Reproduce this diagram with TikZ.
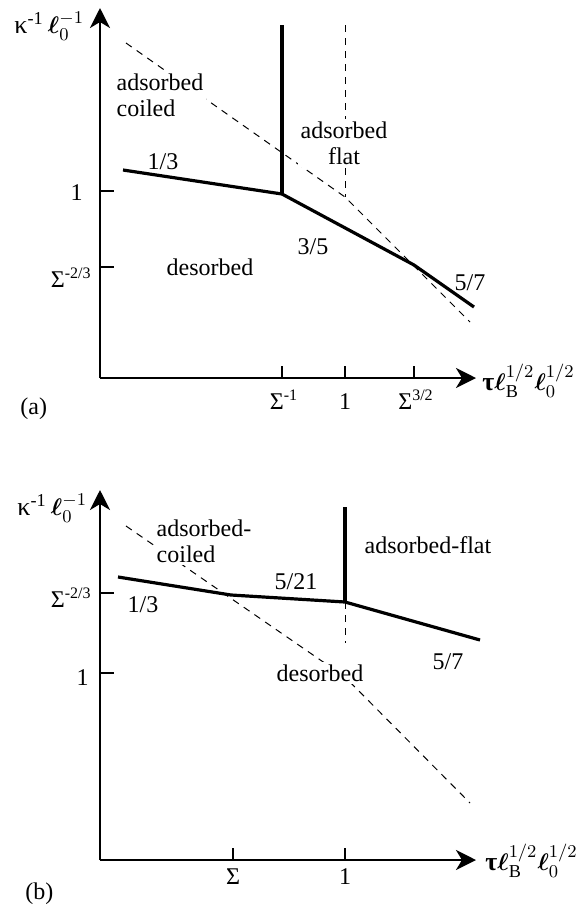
\documentclass[tikz,border=0pt]{standalone}
\usepackage{fontspec}
\setmainfont{Liberation Serif}
\usepackage{amsmath,bm}
\usetikzlibrary{arrows.meta}
\begin{document}
\begin{tikzpicture}[x=0.5pt,y=-0.5pt]
  \tikzstyle{axis}=[line width=1.3pt, -{Stealth[length=10pt,width=10pt,inset=3pt]}]
  \tikzstyle{phaseline}=[line width=1.6pt, line join=round]
  \tikzstyle{crossover}=[line width=0.5pt, dash pattern=on 3.5pt off 3pt]
  \tikzstyle{tick}=[line width=1.3pt]
  \tikzstyle{lbl}=[font=\fontsize{12}{13}\selectfont, inner sep=1pt]
  \tikzstyle{region}=[lbl, fill=white, inner sep=1.5pt]
  \useasboundingbox (0,0) rectangle (575,906);
  % (a)
  \coordinate (aO) at (100,378);
  \coordinate (aY) at (100,8);
  \coordinate (aX) at (476,378);
  \coordinate (aP1) at (123,170);
  \coordinate (aP2) at (282,194);
  \coordinate (aP3) at (414,265);
  \coordinate (aP4) at (474,307);
  \coordinate (aV) at (282,25);
  \coordinate (aD1) at (126,43);
  \coordinate (aD2) at (345,197);
  \coordinate (aD3) at (470,322);
  \coordinate (aDV) at (345,25);
  \draw[crossover] (aD1) -- (aD2) -- (aD3);
  \draw[crossover] (aDV) -- (aD2);
  \draw[phaseline] (aP1) -- (aP2) -- (aP3) -- (aP4);
  \draw[phaseline] (aV) -- (aP2);
  \draw[axis] (aO) -- (aY);
  \draw[axis] (aO) -- (aX);
  \draw[tick] (100,191) -- (114,191);
  \draw[tick] (100,267) -- (114,267);
  \draw[tick] (282,378) -- (282,366);
  \draw[tick] (345,378) -- (345,366);
  \draw[tick] (414,378) -- (414,366);
  \node[lbl, anchor=base west] (aylab) at (12,33) {\fontsize{13}{14}\selectfont κ\textsuperscript{-1}\,$\boldsymbol{\ell}_0^{-1}$};
  \node[lbl, anchor=base west] (axlab) at (480,390) {\fontsize{13}{14}\selectfont\textbf{τ}$\boldsymbol{\ell}_{\mathrm{B}}^{1/2}\boldsymbol{\ell}_0^{1/2}$};
  \node[lbl, anchor=base east] (ay1) at (85,200) {1};
  \node[lbl, anchor=base east] (ay2) at (94,287) {Σ\textsuperscript{-2/3}};
  \node[lbl, anchor=base] (ax1) at (284,409) {Σ\textsuperscript{-1}};
  \node[lbl, anchor=base] (ax2) at (345,409) {1};
  \node[lbl, anchor=base] (ax3) at (416,409) {Σ\textsuperscript{3/2}};
  \node[region, align=left] (acoil) at (160,95) {adsorbed\\coiled};
  \node[region, align=center] (aflat) at (344,143) {adsorbed\\flat};
  \node[region] (ades) at (210,267) {desorbed};
  \node[lbl] (as1) at (163,162) {1/3};
  \node[lbl] (as2) at (313,247) {3/5};
  \node[lbl] (as3) at (470,283) {5/7};
  \node[lbl, anchor=base west] (atag) at (18,414) {(a)};
  % (b)
  \coordinate (bO) at (100,860);
  \coordinate (bY) at (100,490);
  \coordinate (bX) at (476,860);
  \coordinate (bP1) at (118,577);
  \coordinate (bP2) at (231,595);
  \coordinate (bP3) at (345,602);
  \coordinate (bP4) at (480,640);
  \coordinate (bV) at (345,507);
  \coordinate (bVD) at (345,643);
  \coordinate (bD1) at (126,526);
  \coordinate (bD2) at (345,677);
  \coordinate (bD3) at (470,803);
  \draw[crossover] (bD1) -- (bD2) -- (bD3);
  \draw[crossover] (bP3) -- (bVD);
  \draw[phaseline] (bP1) -- (bP2) -- (bP3) -- (bP4);
  \draw[phaseline] (bV) -- (bP3);
  \draw[axis] (bO) -- (bY);
  \draw[axis] (bO) -- (bX);
  \draw[tick] (100,593) -- (114,593);
  \draw[tick] (100,673) -- (114,673);
  \draw[tick] (233,860) -- (233,848);
  \draw[tick] (345,860) -- (345,848);
  \node[lbl, anchor=base west] (bylab) at (15,515) {\fontsize{13}{14}\selectfont κ\textsuperscript{-1}\,$\boldsymbol{\ell}_0^{-1}$};
  \node[lbl, anchor=base west] (bxlab) at (483,870) {\fontsize{13}{14}\selectfont\textbf{τ}$\boldsymbol{\ell}_{\mathrm{B}}^{1/2}\boldsymbol{\ell}_0^{1/2}$};
  \node[lbl, anchor=base east] (by1) at (94,607) {Σ\textsuperscript{-2/3}};
  \node[lbl, anchor=base east] (by2) at (91,685) {1};
  \node[lbl, anchor=base] (bx1) at (233,884) {Σ};
  \node[lbl, anchor=base] (bx2) at (345,884) {1};
  \node[region, align=left] (bcoil) at (204,541) {adsorbed-\\coiled};
  \node[region] (bflat) at (428,545) {adsorbed-flat};
  \node[region] (bdes) at (320,673) {desorbed};
  \node[lbl] (bs1) at (143,605) {1/3};
  \node[lbl] (bs2) at (296,582) {5/21};
  \node[lbl] (bs3) at (448,662) {5/7};
  \node[lbl, anchor=base west] (btag) at (23,899) {(b)};
\end{tikzpicture}
\end{document}
